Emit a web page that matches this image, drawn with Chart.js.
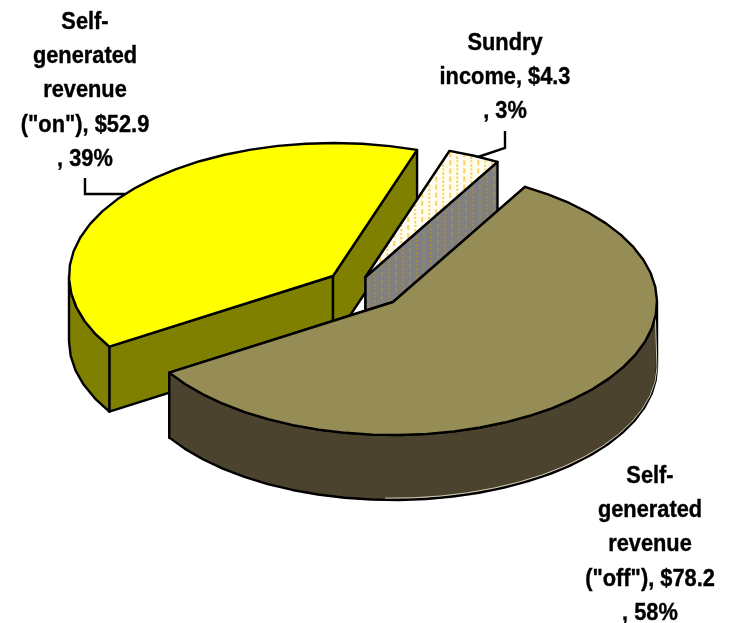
<!DOCTYPE html>
<html lang="en">
<head>
<meta charset="utf-8">
<title>Revenue sources</title>
<script src="https://cdn.jsdelivr.net/npm/chart.js@4/dist/chart.umd.min.js"></script>
<style>
    html, body { margin: 0; padding: 0; background: #fff; }
    canvas { display: block; }
</style>
</head>
<body>
<canvas id="myChart" width="734" height="623"></canvas>
<script>
// revenue split, $m
var categories = ['Self-generated revenue ("off")', 'Self-generated revenue ("on")', 'Sundry income'];
var amounts = [78.2, 52.9, 4.3];
var shares = [58, 39, 3];

var topColors = ['#968c55', '#ffff00', null];
var wallColors = ['#4b432d', '#808000', null];

// pull of each slice away from the chart centre, on screen
var explodeX = [26, -34, -1.5];
var explodeY = [-9.5, -35.5, -34.5];

var RADIUS = 264;
var SQUASH = 133 / 264;
var DEPTH = 65;
var LINE = 2.4;
var RIM_STEP = 6 * Math.PI / 180;

// columns of vertical dashes used on the small slice
function dashPattern(base, dash, soft, tileH) {
    var c = document.createElement('canvas');
    c.width = 14;
    c.height = tileH;
    var x = c.getContext('2d');
    var on = tileH * 0.62;
    x.fillStyle = base;
    x.fillRect(0, 0, 14, tileH);
    x.fillStyle = soft;
    x.fillRect(4, 0, 1, on);
    x.fillRect(11, tileH / 2, 1, on / 2);
    x.fillRect(11, 0, 1, on / 2 - 1);
    x.fillStyle = dash;
    x.fillRect(3, 0, 1, on);
    x.fillRect(10, tileH / 2, 1, on / 2);
    x.fillRect(10, 0, 1, on / 2 - 1);
    return document.createElement('canvas').getContext('2d').createPattern(c, 'repeat');
}

topColors[2] = dashPattern('#fffdf0', '#f8b820', '#ffe8a8', 16);
wallColors[2] = dashPattern('#808080', '#a88a3a', '#8f8a68', 8);

function labelLines(i) {
    if (i === 0) return ['Self-', 'generated', 'revenue', '("off"), $' + amounts[0], ', ' + shares[0] + '%'];
    if (i === 1) return ['Self-', 'generated', 'revenue', '("on"), $' + amounts[1], ', ' + shares[1] + '%'];
    return ['Sundry', 'income, $' + amounts[2], ', ' + shares[2] + '%'];
}

// label position: centre x, first baseline
var labelX = [650, 85, 505];
var labelY = [483, 29, 50];
var LABEL_STEP = 34.2;
var TEXT_WIDTH = 0.89;

var leaders = [
    [[85, 178], [85, 194], [125, 194]],
    [[505, 131], [505, 148], [478, 157]]
];

function drawSlice(ctx, arc, i) {
    var cx = arc.x + explodeX[i];
    var cy = arc.y + explodeY[i];
    var a = arc.outerRadius;
    var b = a * SQUASH;
    var start = arc.startAngle;
    var end = arc.endAngle;

    // curved edges as short straight runs
    function rimTo(y0, from, to) {
        var n = Math.max(1, Math.round(Math.abs(to - from) / RIM_STEP));
        for (var k = 0; k <= n; k++) {
            var t = from + (to - from) * k / n;
            ctx.lineTo(cx + a * Math.cos(t), y0 + b * Math.sin(t));
        }
    }

    function radialWall(t) {
        var px = cx + a * Math.cos(t);
        var py = cy + b * Math.sin(t);
        ctx.beginPath();
        ctx.moveTo(cx, cy);
        ctx.lineTo(px, py);
        ctx.lineTo(px, py + DEPTH);
        ctx.lineTo(cx, cy + DEPTH);
        ctx.closePath();
        ctx.fill();
        ctx.stroke();
    }

    ctx.save();
    ctx.lineWidth = LINE;
    ctx.strokeStyle = '#000';
    ctx.lineJoin = 'round';
    ctx.fillStyle = wallColors[i];

    radialWall(start);
    radialWall(end);

    // rim, only the part facing the viewer
    var lo = Math.max(start, 0);
    var hi = Math.min(end, Math.PI);
    if (lo < hi) {
        ctx.beginPath();
        rimTo(cy, lo, hi);
        rimTo(cy + DEPTH, hi, lo);
        ctx.closePath();
        ctx.fill();
        ctx.stroke();

        // pale edge light on the big slice
        if (i === 0) {
            ctx.save();
            ctx.lineWidth = 1;
            ctx.strokeStyle = 'rgba(235, 232, 210, 0.85)';
            ctx.beginPath();
            ctx.moveTo(cx + a - 1.8, cy + 8);
            rimTo(cy + DEPTH - 1.8, 0.02, hi * 0.62);
            ctx.stroke();
            ctx.restore();
        }
    }

    // top face comes from the library's arc, flattened
    ctx.save();
    ctx.translate(cx, cy);
    ctx.scale(1, SQUASH);
    ctx.translate(-arc.x, -arc.y);
    arc.draw(ctx);
    ctx.restore();

    ctx.beginPath();
    ctx.moveTo(cx, cy);
    rimTo(cy, start, end);
    ctx.closePath();
    ctx.stroke();
    ctx.restore();
}

var pie3d = {
    id: 'pie3d',
    beforeDatasetsDraw: function (chart) {
        var arcs = chart.getDatasetMeta(0).data;
        // back slices first
        [1, 2, 0].forEach(function (i) {
            drawSlice(chart.ctx, arcs[i], i);
        });
        return false;
    },
    afterDraw: function (chart) {
        var ctx = chart.ctx;
        ctx.save();
        ctx.strokeStyle = '#000';
        ctx.lineWidth = LINE;
        leaders.forEach(function (pts) {
            ctx.beginPath();
            pts.forEach(function (p, n) {
                if (n === 0) ctx.moveTo(p[0], p[1]);
                else ctx.lineTo(p[0], p[1]);
            });
            ctx.stroke();
        });

        ctx.fillStyle = '#000';
        ctx.lineWidth = 0.4;
        ctx.font = 'bold 24.5px "Liberation Sans", Arial, sans-serif';
        ctx.textAlign = 'center';
        ctx.textBaseline = 'alphabetic';
        categories.forEach(function (name, i) {
            labelLines(i).forEach(function (line, n) {
                ctx.save();
                ctx.translate(labelX[i], labelY[i] + n * LABEL_STEP);
                ctx.scale(TEXT_WIDTH, 1);
                ctx.fillText(line, 0, 0);
                ctx.strokeText(line, 0, 0);
                ctx.restore();
            });
        });
        ctx.restore();
    }
};

new Chart(document.getElementById('myChart'), {
    type: 'pie',
    data: {
        labels: categories,
        datasets: [{
            data: amounts,
            backgroundColor: topColors,
            borderWidth: 0
        }]
    },
    options: {
        responsive: false,
        animation: false,
        rotation: 30,
        radius: RADIUS,
        events: [],
        plugins: {
            legend: { display: false },
            tooltip: { enabled: false }
        }
    },
    plugins: [pie3d]
});
</script>
</body>
</html>
